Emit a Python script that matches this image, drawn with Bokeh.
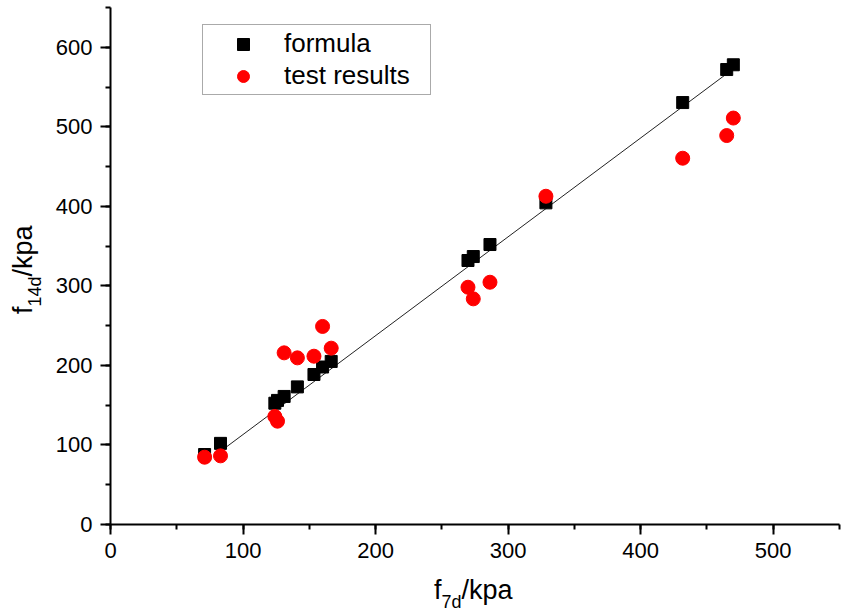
from bokeh.plotting import figure
from bokeh.models import Range1d, SingleIntervalTicker, Legend, LegendItem, Div
from bokeh.layouts import row, column
from bokeh.embed import file_html
from bokeh.resources import INLINE

# ---- data ----
f7d = [71, 83, 124, 126, 131, 141, 153.5, 160, 166.5, 269.7, 273.7, 286.3, 328.5, 431.7, 464.9, 469.9]
formula = [88, 102, 152.5, 156, 161, 173, 188.6, 198, 205, 331.9, 336.9, 352, 404.4, 530.5, 572, 578]
test_results = [84.6, 86.3, 135.8, 129.9, 215.8, 209.5, 211.6, 249, 221.7, 298.3, 283.7, 304.6, 412.7, 460.5, 489, 511]
fit_x = [83, 470]
fit_y = [92, 573]
series_names = ["formula", "test results"]
x_title = ("f", "7d", "/kpa")
y_title = ("f", "14d", "/kpa")

FONT = "Liberation Sans"

p = figure(width=798, height=577, output_backend="svg", toolbar_location=None,
           x_range=Range1d(0, 550), y_range=Range1d(0, 650),
           min_border_left=65, min_border_right=4, min_border_top=7, min_border_bottom=53,
           margin=0)
p.outline_line_color = None
p.grid.visible = False
p.background_fill_color = "white"
p.border_fill_color = "white"

p.line(fit_x, fit_y, line_color="#222222", line_width=1)
r1 = p.scatter(f7d, formula, marker="square", size=12, fill_color="black", line_color="black")
r2 = p.scatter(f7d, test_results, marker="circle", size=14, fill_color="#ff0000", line_color="#ff0000")

for ax in (p.xaxis[0], p.yaxis[0]):
    ax.ticker = SingleIntervalTicker(interval=100, num_minor_ticks=2)
    ax.axis_line_width = 2
    ax.axis_line_color = "black"
    ax.major_tick_in = 0
    ax.major_tick_out = 10
    ax.minor_tick_in = 0
    ax.minor_tick_out = 5
    ax.major_tick_line_width = 2
    ax.minor_tick_line_width = 2
    ax.major_tick_line_color = "black"
    ax.minor_tick_line_color = "black"
    ax.major_label_text_font = FONT
    ax.major_label_text_font_size = "22px"
    ax.major_label_text_color = "black"
    ax.major_label_standoff = 8
    ax.axis_label = None

legend = Legend(items=[LegendItem(label=series_names[0], renderers=[r1]),
                       LegendItem(label=series_names[1], renderers=[r2])],
                location=(92, 429))
legend.label_text_font = FONT
legend.label_text_font_size = "26px"
legend.label_text_color = "black"
legend.padding = 3
legend.spacing = 1
legend.margin = 0
legend.glyph_width = 74
legend.glyph_height = 30
legend.label_height = 28
legend.label_width = 143
legend.label_standoff = 4
legend.border_line_color = "#555555"
legend.border_line_width = 1
legend.background_fill_alpha = 1
p.add_layout(legend)


def title_html(parts):
    main, sub, rest = parts
    return (f"{main}<span style=\"font-size:18px; line-height:0; vertical-align:-9px;\">{sub}</span>{rest}")


base_style = f"font-family:'{FONT}'; font-size:27px; line-height:27px; color:black; white-space:nowrap;"

x_div = Div(text=f"<div style=\"{base_style} margin-left:434px;\">{title_html(x_title)}</div>",
            width=843, height=38, margin=0)
y_div = Div(text=(f"<div style=\"{base_style} position:absolute; left:10px; top:314px; "
                  f"transform:rotate(-90deg); transform-origin:left top;\">{title_html(y_title)}</div>"),
            width=45, height=577, margin=0)

layout = column(row(y_div, p, margin=0, spacing=0), x_div, margin=0, spacing=0)
open("out.html", "w").write(file_html(layout, INLINE))
